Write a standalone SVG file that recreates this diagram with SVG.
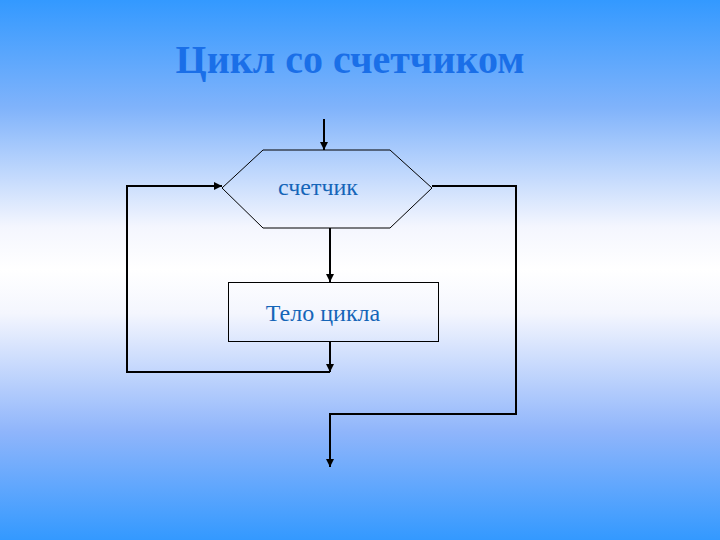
<svg xmlns="http://www.w3.org/2000/svg" width="720" height="540" viewBox="0 0 720 540">
<defs>
<linearGradient id="bg" x1="0" y1="0" x2="0" y2="1">
<stop offset="0" stop-color="#3399ff"/>
<stop offset="0.2" stop-color="#80b3fb"/>
<stop offset="0.42" stop-color="#f4f6fe"/>
<stop offset="0.5" stop-color="#ffffff"/>
<stop offset="0.58" stop-color="#f4f6fe"/>
<stop offset="0.8" stop-color="#8fb5fb"/>
<stop offset="1" stop-color="#3399ff"/>
</linearGradient>
<marker id="arr" viewBox="0 0 10 10" refX="10" refY="5" markerWidth="4" markerHeight="4" orient="auto" markerUnits="strokeWidth">
<path d="M0,0 L10,5 L0,10 z" fill="#000"/>
</marker>
<style>
.title{font-family:"Liberation Serif","Times New Roman",serif;font-weight:bold;font-size:40px;fill:#1a6fe8}
.lbl{font-family:"Liberation Serif","Times New Roman",serif;font-size:24px;fill:#1565b8}
.shape{fill:none;stroke:#000;stroke-width:1}
.conn{fill:none;stroke:#000;stroke-width:2}
</style>
</defs>
<rect x="0" y="0" width="720" height="540" fill="url(#bg)"/>
<text class="title" x="350" y="73" text-anchor="middle">Цикл со счетчиком</text>
<g id="counter">
<polygon class="shape" points="263,150 390,150 432,188 390,228 263,228 222,188"/>
<text class="lbl" x="318" y="195" text-anchor="middle">счетчик</text>
</g>
<g id="body">
<rect class="shape" x="228.5" y="282.5" width="210" height="59" stroke-width="1.5"/>
<text class="lbl" x="323" y="321" text-anchor="middle">Тело цикла</text>
</g>
<g id="connectors">
<path class="conn" d="M324,119 V150" marker-end="url(#arr)"/>
<path class="conn" d="M330,228 V282" marker-end="url(#arr)"/>
<path class="conn" d="M330,342 V372" marker-end="url(#arr)"/>
<path class="conn" d="M330,372 H127 V186 H222" marker-end="url(#arr)"/>
<path class="conn" d="M432,186 H516 V414 H330 V467" marker-end="url(#arr)"/>
</g>
</svg>
